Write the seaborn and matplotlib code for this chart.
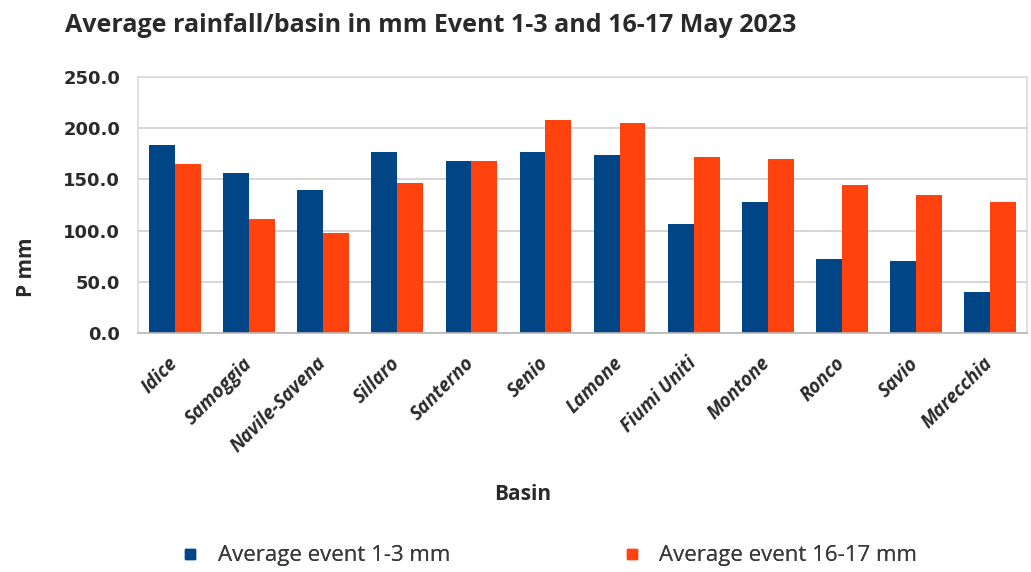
import matplotlib
matplotlib.use("Agg")
import matplotlib.pyplot as plt
import seaborn as sns
import pandas as pd
import numpy as np
from matplotlib.lines import Line2D

basins = ["Idice", "Samoggia", "Navile-Savena", "Sillaro", "Santerno", "Senio",
          "Lamone", "Fiumi Uniti", "Montone", "Ronco", "Savio", "Marecchia"]
event_1_3 = [184, 156, 140, 177, 168, 177, 174, 106, 128, 72, 70, 40]
event_16_17 = [165, 111, 98, 147, 168, 208, 205, 172, 170, 145, 135, 128]
series_names = ["Average event 1-3 mm", "Average event 16-17 mm"]
colors = ["#004586", "#ff420e"]
yticks = [0, 50, 100, 150, 200, 250]

df = pd.DataFrame({
    "Basin": basins * 2,
    "P": event_1_3 + event_16_17,
    "Series": [series_names[0]] * len(basins) + [series_names[1]] * len(basins),
})

sns.set_theme(style="white")
plt.rcParams["font.family"] = ["Open Sans", "DejaVu Sans"]
TXT = "#2a2a2a"

fig = plt.figure(figsize=(10.31, 5.72), dpi=100)
ax = fig.add_axes([0.134, 0.418, 0.862, 0.447])

sns.barplot(data=df, x="Basin", y="P", hue="Series", palette=colors,
            width=0.70, saturation=1, ax=ax, legend=False, edgecolor="none")

ax.set_ylim(0, 250)
ax.set_xlim(-0.5, len(basins) - 0.5)
ax.set_yticks(yticks)
ax.set_yticklabels([f"{v:.1f}" for v in yticks], fontsize=13, fontweight="bold",
                   color=TXT, family=["DejaVu Sans"])
ax.yaxis.grid(True, color="#d0d0d0", linewidth=1.2)
ax.set_axisbelow(True)
for s in ax.spines.values():
    s.set_color("#dadada")
    s.set_linewidth(1.2)
ax.spines["bottom"].set_color("#b8b8b8")

ax.set_xticks(range(len(basins)))
ax.set_xticklabels(basins, rotation=45, ha="right", va="center", rotation_mode="anchor",
                   fontsize=13.5, fontweight="bold", fontstyle="italic", color=TXT)
ax.tick_params(axis="x", which="major", length=0, pad=20)
ax.tick_params(axis="y", length=0, pad=13)
ax.set_xticks(np.arange(len(basins) - 1) + 0.5, minor=True)
ax.tick_params(axis="x", which="minor", length=7, color="#cfcfcf", width=1, direction="out")

ax.set_xlabel("")
ax.set_ylabel("")

fig.text(0.063, 0.944, "Average rainfall/basin in mm Event 1-3 and 16-17 May 2023",
         fontsize=18, fontweight="bold", color=TXT, ha="left", va="baseline")
fig.text(0.507, 0.136, "Basin", fontsize=15, fontweight="bold", color=TXT,
         ha="center", va="center")
fig.text(0.026, 0.533, "P mm", fontsize=15, fontweight="bold", color=TXT,
         ha="center", va="center", rotation=90)

for name, c, x0 in zip(series_names, colors, [0.1545, 0.5825]):
    h = Line2D([0], [0], marker="s", linestyle="none", markersize=7,
               markerfacecolor=c, markeredgecolor=c)
    leg = fig.legend([h], [name], loc="center left", bbox_to_anchor=(x0, 0.028),
                     frameon=False, fontsize=16, handlelength=1.0, handletextpad=0.75,
                     labelcolor="#3a3a3a")
    fig.add_artist(leg)

fig.savefig("out.png", dpi=100, facecolor="white")
